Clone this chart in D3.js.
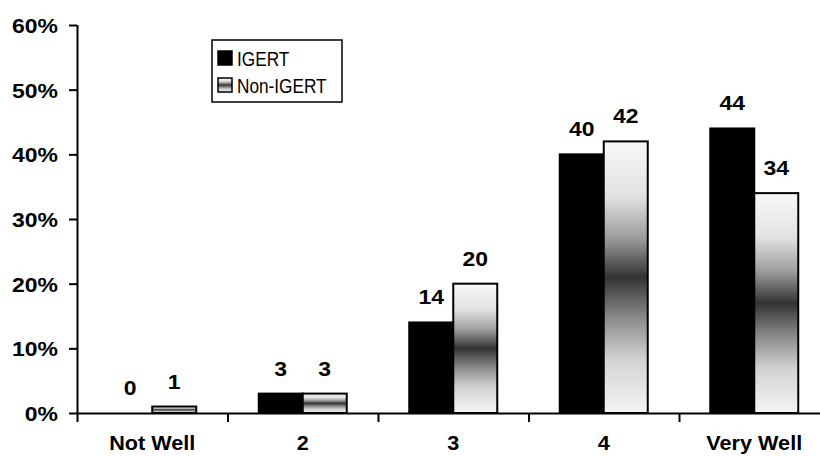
<!DOCTYPE html>
<html>
<head>
<meta charset="utf-8">
<script src="https://cdn.jsdelivr.net/npm/d3@7"></script>
<style>
  html, body { margin: 0; padding: 0; background: #fff; }
  svg { display: block; }
  text { font-family: "Liberation Sans", Arial, sans-serif; fill: #000; }
</style>
</head>
<body>
<svg id="chart" width="820" height="456"></svg>
<script>
// ---- data ----
const categories = ["Not Well", "2", "3", "4", "Very Well"];
const seriesNames = ["IGERT", "Non-IGERT"];
const igertValues = [0, 3, 14, 40, 44];
const nonIgertValues = [1, 3, 20, 42, 34];
const yTicks = [0, 10, 20, 30, 40, 50, 60];

const svg = d3.select("#chart");
const W = 820, H = 456;

// gradient
const defs = svg.append("defs");
const grad = defs.append("linearGradient")
  .attr("id", "g").attr("x1", 0).attr("y1", 0).attr("x2", 0).attr("y2", 1);
[[0, "#f8f8f8"], [0.2, "#e2e2e2"], [0.35, "#a0a0a0"], [0.5, "#333333"],
 [0.65, "#8a8a8a"], [0.8, "#d2d2d2"], [1, "#f5f5f5"]].forEach(([o, c]) =>
  grad.append("stop").attr("offset", o).attr("stop-color", c));

const x0 = 77, yBase = 413, yTop = 25;
const x = d3.scaleBand().domain(categories).range([x0, 829.5]).padding(0);
const sub = d3.scaleBand().domain(seriesNames)
  .range([x.bandwidth() / 2 - 44, x.bandwidth() / 2 + 44]).padding(0);
const y = d3.scaleLinear().domain([0, 60]).range([yBase, yTop]);

function stretch(sel, f) {
  sel.each(function () {
    const l = this.getComputedTextLength();
    d3.select(this).attr("textLength", l * f).attr("lengthAdjust", "spacingAndGlyphs");
  });
}

// y axis
const yAxis = svg.append("g").attr("transform", `translate(${x0},0)`)
  .call(d3.axisLeft(y).tickValues(yTicks).tickSize(8).tickPadding(11)
    .tickFormat(d => d + "%"));
yAxis.select(".domain").attr("stroke", "#000").attr("stroke-width", 2)
  .attr("d", `M0.5,${yTop}V${yBase}`);
yAxis.selectAll(".tick line").attr("stroke", "#000").attr("stroke-width", 2);
yAxis.selectAll(".tick text").attr("font-size", 20.5).attr("font-weight", "bold")
  .attr("font-family", "Liberation Sans, Arial, sans-serif").attr("dy", "0.36em");
stretch(yAxis.selectAll(".tick text"), 1.12);

// bars
const data = categories.map((c, i) => ({ c, vals: [igertValues[i], nonIgertValues[i]] }));
const groups = svg.append("g").selectAll("g").data(data).join("g")
  .attr("transform", d => `translate(${x(d.c)},0)`);
groups.selectAll("rect").data(d => d.vals.map((v, j) => ({ v, s: seriesNames[j] })))
  .join("rect")
  .attr("x", d => sub(d.s))
  .attr("y", d => y(d.v))
  .attr("width", sub.bandwidth())
  .attr("height", d => yBase - y(d.v))
  .attr("fill", d => d.s === "IGERT" ? "#000" : "url(#g)")
  .attr("stroke", "#000").attr("stroke-width", 2);

// value labels
const lbl = groups.selectAll("text.v").data(d => d.vals.map((v, j) => ({ v, s: seriesNames[j] })))
  .join("text").attr("class", "v")
  .attr("x", d => sub(d.s) + sub.bandwidth() / 2)
  .attr("y", d => y(d.v) - 18)
  .attr("text-anchor", "middle")
  .attr("font-size", 20.5).attr("font-weight", "bold")
  .text(d => d.v);
stretch(lbl, 1.12);

// x axis
const xAxis = svg.append("g").attr("transform", `translate(0,${yBase})`)
  .call(d3.axisBottom(x).tickSize(0).tickPadding(22));
xAxis.select(".domain").attr("stroke", "#000").attr("stroke-width", 2)
  .attr("d", `M${x0},0.5H${W}`);
xAxis.selectAll(".tick text").attr("font-size", 21).attr("font-weight", "bold")
  .attr("font-family", "Liberation Sans, Arial, sans-serif").attr("dy", "0.71em");
stretch(xAxis.selectAll(".tick text"), 1.03);
// boundary ticks
const bounds = categories.map(c => x(c)).concat([x(categories[4]) + x.bandwidth()]);
xAxis.selectAll("line.b").data(bounds).join("line").attr("class", "b")
  .attr("x1", d => d + 0.5).attr("x2", d => d + 0.5).attr("y1", 0).attr("y2", 9)
  .attr("stroke", "#000").attr("stroke-width", 2);

// legend
const lg = svg.append("g");
lg.append("rect").attr("x", 212).attr("y", 40).attr("width", 130).attr("height", 62)
  .attr("fill", "#fff").attr("stroke", "#000").attr("stroke-width", 1.5);
const items = lg.selectAll("g.it").data(seriesNames).join("g").attr("class", "it")
  .attr("transform", (d, i) => `translate(218,${51 + i * 27})`);
items.append("rect").attr("width", 14).attr("height", 14)
  .attr("fill", d => d === "IGERT" ? "#000" : "url(#g)")
  .attr("stroke", "#000").attr("stroke-width", 1.5);
const lt = items.append("text").attr("x", 19).attr("y", 15)
  .attr("font-size", 21).text(d => d);
stretch(lt, 0.82);
</script>
</body>
</html>
